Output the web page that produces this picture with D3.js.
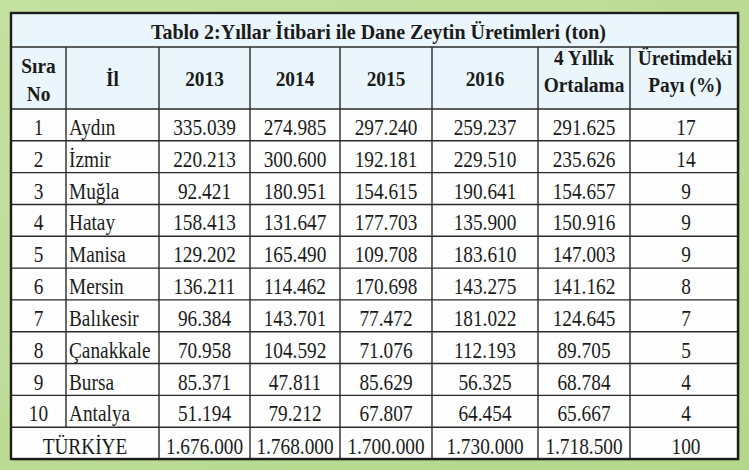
<!DOCTYPE html>
<html><head><meta charset="utf-8">
<script src="https://cdn.jsdelivr.net/npm/d3@7"></script>
<style>
html,body{margin:0;padding:0;background:#bcdc95;}
svg{display:block;}
</style></head>
<body>
<svg id="c" width="749" height="470"></svg>
<script>
// ---- data ----
const title = "Tablo 2:Yıllar İtibari ile Dane Zeytin Üretimleri (ton)";
const headers = [["Sıra","No"],["İl"],["2013"],["2014"],["2015"],["2016"],["4 Yıllık","Ortalama"],["Üretimdeki","Payı (%)"]];
const siraNo = [1,2,3,4,5,6,7,8,9,10];
const provinces = ["Aydın","İzmir","Muğla","Hatay","Manisa","Mersin","Balıkesir","Çanakkale","Bursa","Antalya"];
const y2013 = [335039,220213,92421,158413,129202,136211,96384,70958,85371,51194];
const y2014 = [274985,300600,180951,131647,165490,114462,143701,104592,47811,79212];
const y2015 = [297240,192181,154615,177703,109708,170698,77472,71076,85629,67807];
const y2016 = [259237,229510,190641,135900,183610,143275,181022,112193,56325,64454];
const avg4 = [291625,235626,154657,150916,147003,141162,124645,89705,68784,65667];
const share = [17,14,9,9,9,8,7,5,4,4];
const totalLabel = "TÜRKİYE";
const totals = [1676000,1768000,1700000,1730000,1718500,100];

// ---- layout ----
const svg = d3.select("#c");
const colEdges = [11,66,159,250,340,432,538,630,738];
const tTop = 13, titleBottom = 47, headBottom = 109, tBottom = 459;
const nRows = siraNo.length + 1;
const yRow = d3.scaleBand().domain(d3.range(nRows)).range([headBottom, tBottom]).padding(0);
const xCol = d3.scaleOrdinal().domain(d3.range(8)).range(colEdges.slice(0,8));
const wCol = i => colEdges[i+1]-colEdges[i];
const loc = d3.formatLocale({decimal:",",thousands:".",grouping:[3],currency:["","TL"]});
const fmt = loc.format(",d");
const serif = "'Liberation Serif','Times New Roman',serif";
const SX = 0.84, HSX = 0.88, FS = 23, HFS = 22;

// backgrounds
const defs = svg.append("defs");
const g = defs.append("linearGradient").attr("id","bg").attr("x1",0).attr("y1",0).attr("x2",1).attr("y2",1);
g.append("stop").attr("offset",0).attr("stop-color","#c4e0a0");
g.append("stop").attr("offset",1).attr("stop-color","#b3d78b");
svg.append("rect").attr("width",749).attr("height",470).attr("fill","url(#bg)");

// shadow
svg.append("rect").attr("x",colEdges[0]+1.5).attr("y",tTop+1.5).attr("width",colEdges[8]-colEdges[0]).attr("height",tBottom-tTop)
  .attr("fill","#52663d").attr("opacity",0.45);
// header bg
svg.append("rect").attr("x",colEdges[0]).attr("y",tTop).attr("width",colEdges[8]-colEdges[0]).attr("height",headBottom-tTop).attr("fill","#eaf6fb");
svg.append("rect").attr("x",colEdges[0]).attr("y",headBottom).attr("width",colEdges[8]-colEdges[0]).attr("height",tBottom-headBottom).attr("fill","#fdfefd");

// grid lines
const lines = svg.append("g").attr("stroke","#2a2a2a").attr("stroke-width",1.4);
lines.append("line").attr("x1",colEdges[0]).attr("x2",colEdges[8]).attr("y1",titleBottom).attr("y2",titleBottom);
lines.selectAll(".h").data(d3.range(nRows)).join("line")
  .attr("x1",colEdges[0]).attr("x2",colEdges[8]).attr("y1",d=>yRow(d)).attr("y2",d=>yRow(d));
lines.selectAll(".v").data(d3.range(1,8)).join("line")
  .attr("x1",d=>colEdges[d]).attr("x2",d=>colEdges[d])
  .attr("y1",titleBottom)
  .attr("y2",d=>d===1 ? yRow(nRows-1) : tBottom);
svg.append("rect").attr("x",colEdges[0]).attr("y",tTop).attr("width",colEdges[8]-colEdges[0]).attr("height",tBottom-tTop)
  .attr("fill","none").attr("stroke","#1c1c1c").attr("stroke-width",2.4);

// helper: condensed text
function ctext(parent, x, y, str, opts){
  opts = opts||{};
  return parent.append("text")
    .attr("transform",`translate(${x},${y}) scale(${opts.sx||SX},1)`)
    .attr("text-anchor",opts.anchor||"middle")
    .attr("font-family",serif)
    .attr("font-weight",opts.bold?"bold":"normal")
    .attr("font-size",opts.fs||FS)
    .attr("fill","#1b1b1b")
    .text(str);
}

// title
svg.append("text").attr("x",(colEdges[0]+colEdges[8])/2+4).attr("y",39)
  .attr("text-anchor","middle").attr("font-family",serif).attr("font-weight","bold").attr("font-size",21)
  .attr("fill","#1a1a1a").attr("textLength",455).attr("lengthAdjust","spacingAndGlyphs").text(title);

// headers
const headBase = [[73,101],[86],[86],[86],[86],[86],[65,92],[65,92]];
headers.forEach((h,i)=>{
  const cx = xCol(i)+wCol(i)/2 + (i===7?1:0);
  h.forEach((line,j)=>ctext(svg, cx, headBase[i][j], line, {bold:true, fs:HFS, sx:HSX}));
});

// body
const cols = [y2013,y2014,y2015,y2016,avg4];
const body = svg.append("g");
siraNo.forEach((n,i)=>{
  const by = yRow(i)+26;
  ctext(body, xCol(0)+wCol(0)/2, by, n);
  ctext(body, xCol(1)+3, by, provinces[i], {anchor:"start"});
  cols.forEach((arr,k)=>ctext(body, xCol(k+2)+wCol(k+2)/2, by, fmt(arr[i])));
  ctext(body, xCol(7)+wCol(7)/2+2, by, share[i]);
});

// total row
const ty = yRow(nRows-1)+26.5;
ctext(body, (colEdges[0]+colEdges[2])/2, ty, totalLabel);
totals.forEach((v,k)=>{
  ctext(body, xCol(k+2)+wCol(k+2)/2+(k===5?2:0), ty, k===5? v : fmt(v));
});
</script>
</body></html>
